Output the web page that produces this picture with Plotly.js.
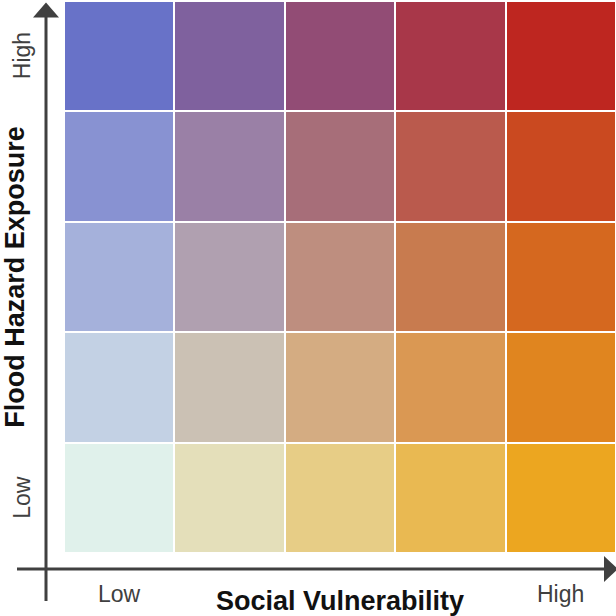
<!DOCTYPE html>
<html>
<head>
<meta charset="utf-8">
<script src="https://cdn.plot.ly/plotly-3.0.1.min.js"></script>
<style>html,body{margin:0;padding:0;background:#fff;}#chart{width:616px;height:616px;}</style>
</head>
<body>
<div id="chart"></div>
<script>
// Social vulnerability levels (x) and flood hazard exposure levels (y), low -> high
const vulnerabilityLevels = [1, 2, 3, 4, 5];
const exposureLevels = [1, 2, 3, 4, 5];
const xTickLabels = ["Low", "", "", "", "High"];
const yTickLabels = ["Low", "", "", "", "High"];
const xTitle = "Social Vulnerability";
const yTitle = "Flood Hazard Exposure";

// Cell colours, one row per exposure level (row 0 = low exposure)
const colorsExposure1 = ["#e0f1eb", "#e4dfba", "#e7cd86", "#e9b952", "#eca620"];
const colorsExposure2 = ["#c3d1e4", "#cbc1b4", "#d4ac82", "#da9853", "#e0851f"];
const colorsExposure3 = ["#a5b1db", "#b0a0b0", "#be8e7f", "#c87b4f", "#d5681f"];
const colorsExposure4 = ["#8892d2", "#9a80a6", "#a76e79", "#ba5a4d", "#ca4920"];
const colorsExposure5 = ["#6872c8", "#7f619e", "#924c75", "#a83749", "#be2620"];

const colorRows = [colorsExposure1, colorsExposure2, colorsExposure3, colorsExposure4, colorsExposure5];
const flatColors = [].concat(...colorRows);
const nColors = flatColors.length;
const colorscale = flatColors.map((c, i) => [i / (nColors - 1), c]);
const z = colorRows.map((row, r) => row.map((_, c) => r * row.length + c));

const axisColor = "#404040";
const fontFamily = "Liberation Sans, Arial, sans-serif";

const trace = {
  type: "heatmap",
  x: vulnerabilityLevels,
  y: exposureLevels,
  z: z,
  zmin: 0,
  zmax: nColors - 1,
  colorscale: colorscale,
  showscale: false,
  xgap: 2,
  ygap: 2,
  hoverinfo: "skip"
};

// pixel -> paper helpers for decorative axis arrows
const L = 64, T = 1, W = 552, H = 552;
const px = v => (v - L) / W;
const py = v => (T + H - v) / H;

const shapes = [
  // vertical axis line + arrowhead
  {type: "line", xref: "paper", yref: "paper", x0: px(46), x1: px(46), y0: py(601), y1: py(15),
   line: {color: axisColor, width: 3}},
  {type: "path", xref: "paper", yref: "paper",
   path: `M ${px(33)} ${py(17.5)} L ${px(59)} ${py(17.5)} L ${px(46)} ${py(2.5)} Z`,
   fillcolor: axisColor, line: {width: 0}},
  // horizontal axis line + arrowhead
  {type: "line", xref: "paper", yref: "paper", x0: px(17), x1: px(606), y0: py(569), y1: py(569),
   line: {color: axisColor, width: 3}},
  {type: "path", xref: "paper", yref: "paper",
   path: `M ${px(604)} ${py(556)} L ${px(604)} ${py(582)} L ${px(618)} ${py(569)} Z`,
   fillcolor: axisColor, line: {width: 0}}
];

const annotations = [];
vulnerabilityLevels.forEach((v, i) => {
  if (xTickLabels[i]) annotations.push({
    xref: "x", yref: "paper", x: v, y: py(594), text: xTickLabels[i], showarrow: false,
    xanchor: "center", yanchor: "middle", font: {family: fontFamily, size: 23, color: axisColor}
  });
});
exposureLevels.forEach((v, i) => {
  if (yTickLabels[i]) annotations.push({
    xref: "paper", yref: "y", x: px(22), y: v, text: yTickLabels[i], showarrow: false, textangle: -90,
    xanchor: "center", yanchor: "middle", font: {family: fontFamily, size: 23, color: axisColor}
  });
});

const layout = {
  width: 616,
  height: 616,
  margin: {l: L, r: 616 - L - W, t: T, b: 616 - T - H, pad: 0},
  paper_bgcolor: "#ffffff",
  plot_bgcolor: "#ffffff",
  xaxis: {
    type: "linear", range: [0.5, 5.5], showgrid: false, zeroline: false, showline: false,
    showticklabels: false, ticks: "", fixedrange: true,
    title: {text: "<b>" + xTitle + "</b>", standoff: 42, font: {family: fontFamily, size: 27, color: "#111111"}}
  },
  yaxis: {
    type: "linear", range: [0.5, 5.5], showgrid: false, zeroline: false, showline: false,
    showticklabels: false, ticks: "", fixedrange: true,
    title: {text: "<b>" + yTitle + "</b>", standoff: 32, font: {family: fontFamily, size: 27, color: "#111111"}}
  },
  shapes: shapes,
  annotations: annotations,
  showlegend: false
};

Plotly.newPlot("chart", [trace], layout, {displayModeBar: false, staticPlot: true});
</script>
</body>
</html>
